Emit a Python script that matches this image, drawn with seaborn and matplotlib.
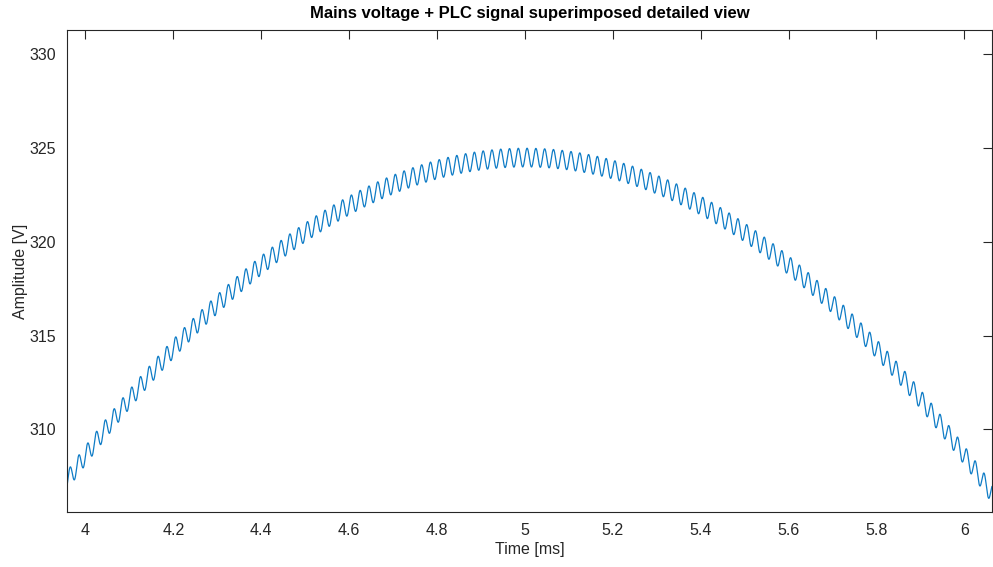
import numpy as np
import pandas as pd
import seaborn as sns
import matplotlib.pyplot as plt

# signal parameters
mains_amplitude = 324.5   # V
mains_freq = 50.0         # Hz
plc_amplitude = 0.5       # V
plc_freq = 50000.0        # Hz
sample_rate = 5e6         # Hz
t_start_ms = 3.958
t_stop_ms = 6.063

x_ticks = [4, 4.2, 4.4, 4.6, 4.8, 5, 5.2, 5.4, 5.6, 5.8, 6]
x_tick_labels = ['4', '4.2', '4.4', '4.6', '4.8', '5', '5.2', '5.4', '5.6', '5.8', '6']
y_ticks = [310, 315, 320, 325, 330]
y_limits = (305.6, 331.3)

t = np.arange(t_start_ms * 1e-3, t_stop_ms * 1e-3, 1 / sample_rate)
mains = mains_amplitude * np.sin(2 * np.pi * mains_freq * t)
plc = plc_amplitude * np.sin(2 * np.pi * plc_freq * t)
df = pd.DataFrame({'time_ms': t * 1e3, 'amplitude': mains + plc})

sns.set_style('white')
plt.rcParams['font.family'] = ['Liberation Sans', 'DejaVu Sans']
text_col = '#262626'

fig = plt.figure(figsize=(9.93, 5.67), dpi=100)
ax = fig.add_axes([0.0675, 0.097, 0.9315, 0.85])

sns.lineplot(x='time_ms', y='amplitude', data=df, ax=ax, color='#0f7cc6',
             linewidth=0.9, estimator=None, sort=False)

ax.set_xlim(t_start_ms, t_stop_ms)
ax.set_ylim(*y_limits)
ax.set_xticks(x_ticks)
ax.set_xticklabels(x_tick_labels)
ax.set_yticks(y_ticks)

ax.tick_params(direction='in', length=6.3, width=0.8, top=True, right=True,
               labelsize=11.5, colors=text_col, pad=8)
for s in ax.spines.values():
    s.set_color(text_col)
    s.set_linewidth(0.8)

ax.set_xlabel('Time [ms]', fontsize=11.5, color=text_col, labelpad=3)
ax.set_ylabel('Amplitude [V]', fontsize=11.5, color=text_col, labelpad=1)
ax.set_title('Mains voltage + PLC signal superimposed detailed view',
             fontsize=12, fontweight='bold', color='black', pad=9)

plt.savefig('out.png', dpi=100)
